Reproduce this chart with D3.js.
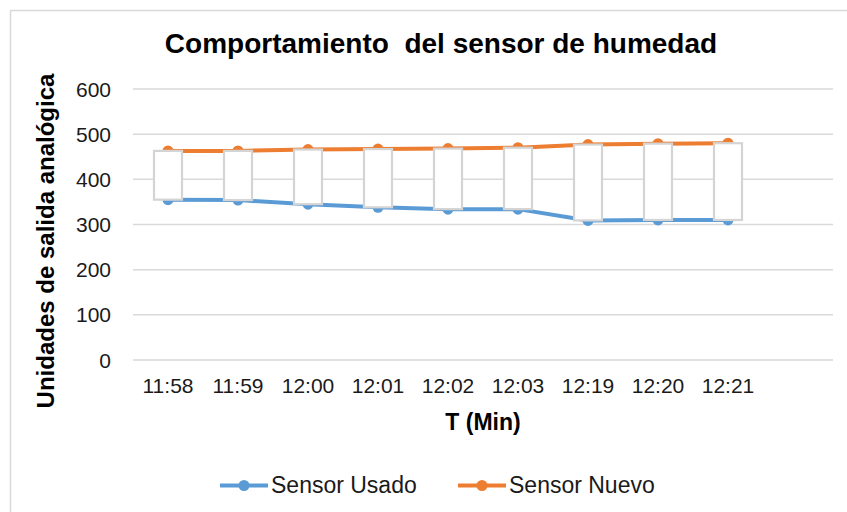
<!DOCTYPE html>
<html>
<head>
<meta charset="utf-8">
<script src="https://cdn.jsdelivr.net/npm/d3@7"></script>
<style>
  body { margin: 0; background: #fff; }
  text { font-family: "Liberation Sans", Arial, sans-serif; }
</style>
</head>
<body>
<div id="chart"></div>
<script>
// categories (the source sheet has one extra empty row at the end)
const categories = ['11:58', '11:59', '12:00', '12:01', '12:02', '12:03', '12:19', '12:20', '12:21', ''];
const sensorUsado = [355, 354, 345, 338, 334, 334, 309, 310, 310];
const sensorNuevo = [463, 463, 466, 467, 468, 470, 477, 479, 480];
const yTicks = [0, 100, 200, 300, 400, 500, 600];

const seriesNames = ['Sensor Usado', 'Sensor Nuevo'];
const colors = ['#5b9bd5', '#ed7d31'];

const width = 847,
      height = 512,
      plot = {left: 133, right: 833, top: 89, bottom: 360},
      gridColor = '#d9d9d9',
      textColor = '#1a1a1a';

const svg = d3.select('#chart')
  .append('svg')
  .attr('width', width)
  .attr('height', height);

// chart frame
svg.append('rect')
  .attr('x', 10.5)
  .attr('y', 10.5)
  .attr('width', 900)
  .attr('height', 600)
  .attr('fill', '#fff')
  .attr('stroke', gridColor)
  .attr('stroke-width', 1.5);

const x = d3.scaleBand()
  .domain(categories)
  .range([plot.left, plot.right])
  .paddingInner(0)
  .paddingOuter(0);

const y = d3.scaleLinear()
  .domain([0, 600])
  .range([plot.bottom, plot.top]);

const cx = (i) => x(categories[i]) + x.bandwidth() / 2;

// gridlines
svg.append('g')
  .selectAll('line')
  .data(yTicks)
  .enter()
  .append('line')
  .attr('x1', plot.left)
  .attr('x2', plot.right)
  .attr('y1', (d) => y(d))
  .attr('y2', (d) => y(d))
  .attr('stroke', gridColor)
  .attr('stroke-width', 1.5);

// y axis labels
svg.append('g')
  .selectAll('text')
  .data(yTicks)
  .enter()
  .append('text')
  .attr('x', 111)
  .attr('y', (d) => y(d) + 7.5)
  .attr('text-anchor', 'end')
  .attr('font-size', 21)
  .attr('fill', textColor)
  .text((d) => d);

// x axis labels
svg.append('g')
  .selectAll('text')
  .data(categories)
  .enter()
  .append('text')
  .attr('x', (d) => x(d) + x.bandwidth() / 2)
  .attr('y', 393)
  .attr('text-anchor', 'middle')
  .attr('font-size', 21)
  .attr('fill', textColor)
  .text((d) => d);

// lines and markers
const line = d3.line()
  .x((d, i) => cx(i))
  .y((d) => y(d));

[sensorUsado, sensorNuevo].forEach((values, k) => {
  svg.append('path')
    .datum(values)
    .attr('d', line)
    .attr('fill', 'none')
    .attr('stroke', colors[k])
    .attr('stroke-width', 4)
    .attr('stroke-linejoin', 'round');

  svg.append('g')
    .selectAll('circle')
    .data(values)
    .enter()
    .append('circle')
    .attr('cx', (d, i) => cx(i))
    .attr('cy', (d) => y(d))
    .attr('r', 5.5)
    .attr('fill', colors[k]);
});

// up/down bars
const barWidth = x.bandwidth() / 2.5;
svg.append('g')
  .selectAll('rect')
  .data(sensorUsado)
  .enter()
  .append('rect')
  .attr('x', (d, i) => cx(i) - barWidth / 2)
  .attr('y', (d, i) => y(Math.max(d, sensorNuevo[i])))
  .attr('width', barWidth)
  .attr('height', (d, i) => Math.abs(y(d) - y(sensorNuevo[i])))
  .attr('fill', '#fff')
  .attr('stroke', '#d4d4d4')
  .attr('stroke-width', 2.2);

// title
svg.append('text')
  .attr('x', 441)
  .attr('y', 53)
  .attr('text-anchor', 'middle')
  .attr('font-size', 28)
  .attr('font-weight', 'bold')
  .attr('fill', '#000')
  .attr('xml:space', 'preserve')
  .style('white-space', 'pre')
  .text('Comportamiento  del sensor de humedad');

// axis titles
svg.append('text')
  .attr('x', 483)
  .attr('y', 430)
  .attr('text-anchor', 'middle')
  .attr('font-size', 23)
  .attr('font-weight', 'bold')
  .attr('fill', '#000')
  .text('T (Min)');

svg.append('text')
  .attr('transform', 'translate(54, 241) rotate(-90)')
  .attr('text-anchor', 'middle')
  .attr('font-size', 24)
  .attr('font-weight', 'bold')
  .attr('fill', '#000')
  .text('Unidades de salida analógica');

// legend
const legendX = [220, 458];
const legend = svg.append('g')
  .selectAll('g')
  .data(seriesNames)
  .enter()
  .append('g')
  .attr('transform', (d, i) => `translate(${legendX[i]}, 485.5)`);

legend.append('line')
  .attr('x1', 0)
  .attr('x2', 48)
  .attr('stroke', (d, i) => colors[i])
  .attr('stroke-width', 4);

legend.append('circle')
  .attr('cx', 24)
  .attr('r', 5.5)
  .attr('fill', (d, i) => colors[i]);

legend.append('text')
  .attr('x', 51)
  .attr('y', 7.5)
  .attr('font-size', 23)
  .attr('fill', textColor)
  .text((d) => d);
</script>
</body>
</html>
